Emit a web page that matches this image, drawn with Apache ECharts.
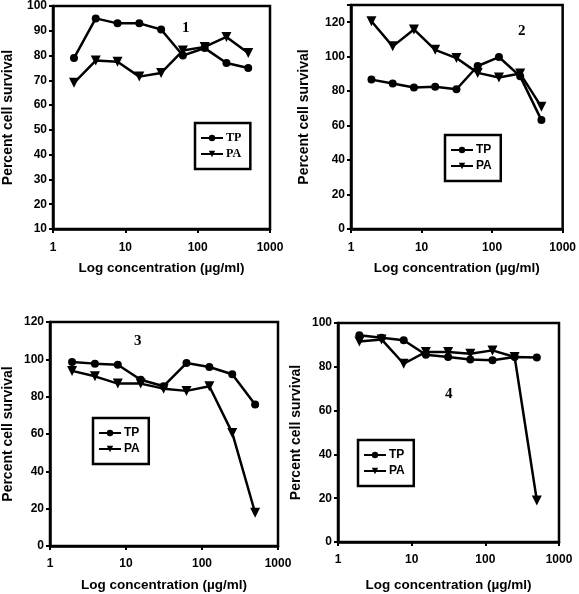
<!DOCTYPE html>
<html><head><meta charset="utf-8">
<script src="https://cdn.jsdelivr.net/npm/echarts@6/dist/echarts.min.js"></script>
<style>html,body{margin:0;padding:0;background:#fff}#c{width:579px;height:594px}</style>
</head><body><div id="c"></div>
<script>
const conc = [1.95, 3.9, 7.8, 15.6, 31.25, 62.5, 125, 250, 500];
const tp1 = [79, 95, 93, 93, 90.5, 80, 83, 77, 75];
const pa1 = [69, 78, 77.5, 71.5, 73, 82, 83.5, 87.5, 81];
const tp2 = [86.7, 84.4, 82.1, 82.5, 81.1, 94.6, 99.8, 88.6, 63.2];
const pa2 = [120.6, 106, 115.8, 104, 99.2, 90.6, 87.9, 90.2, 70.9];
const tp3 = [98.6, 97.7, 97.1, 89.1, 85.6, 98, 95.9, 92, 75.8];
const pa3 = [93.8, 90.9, 87, 87, 84.3, 83.1, 85.6, 60.6, 17.8];
const tp4 = [94.4, 93.3, 92.1, 85.5, 84.5, 83.3, 83, 84.5, 84.2];
const pa4 = [91.5, 92.5, 81.4, 86.8, 86.8, 86, 87.5, 84.5, 19];
const panelLabels = ['1', '2', '3', '4'];
const yRanges = [[10, 100, 10], [0, 130, 20], [0, 120, 20], [0, 100, 20]];
const xTitle = 'Log concentration (\u00b5g/ml)';
const yTitle = 'Percent cell survival';

const grids = [
  {left: 49, top: 5, width: 221, height: 224},
  {left: 351, top: 5, width: 216, height: 224},
  {left: 46, top: 322, width: 232, height: 224},
  {left: 338, top: 323, width: 221, height: 219}
];
const xNameGap = [32, 32, 32, 36];
const xLabelMargin = [13, 13, 12, 12];
const yNameGap = [38, 40, 35, 35];
const SANS = '"Liberation Sans", Arial, sans-serif';
const SERIF = '"Liberation Serif", "Times New Roman", serif';
const legendPos = [
  {left: 195, top: 123, font: SERIF},
  {left: 445, top: 135, font: SANS},
  {left: 93, top: 418, font: SANS},
  {left: 358, top: 440, font: SANS}
];
const labelPos = [[182, 21], [518, 24], [134, 334], [445, 387]];
const tps = [tp1, tp2, tp3, tp4];
const pas = [pa1, pa2, pa3, pa4];

const option = {
  animation: false,
  backgroundColor: '#fff',
  grid: grids.map(g => Object.assign({show: true, borderColor: '#000', borderWidth: 2.5, backgroundColor: 'transparent'}, g)),
  xAxis: grids.map((g, i) => ({
    type: 'log', logBase: 10, min: 1, max: 1000, gridIndex: i,
    name: xTitle, nameLocation: 'middle', nameGap: xNameGap[i],
    nameTextStyle: {fontFamily: SANS, fontWeight: 'bold', fontSize: 13.5, color: '#000'},
    axisLine: {lineStyle: {color: '#000', width: 2.5}},
    axisTick: {show: true, inside: false, length: 4, lineStyle: {color: '#000', width: 2}},
    minorTick: {show: false},
    splitLine: {show: false},
    axisLabel: {fontFamily: SANS, fontWeight: 'bold', fontSize: 12, color: '#000', margin: xLabelMargin[i],
      formatter: v => String(Math.round(v))}
  })),
  yAxis: grids.map((g, i) => ({
    type: 'value', gridIndex: i, min: yRanges[i][0], max: yRanges[i][1], interval: yRanges[i][2],
    name: yTitle, nameLocation: 'middle', nameGap: yNameGap[i],
    nameTextStyle: {fontFamily: SANS, fontWeight: 'bold', fontSize: 14, color: '#000'},
    axisLine: {show: true, lineStyle: {color: '#000', width: 2.5}},
    axisTick: {show: true, inside: false, length: 4, lineStyle: {color: '#000', width: 2}},
    splitLine: {show: false},
    axisLabel: {fontFamily: SANS, fontWeight: 'bold', fontSize: 12, color: '#000', margin: 6,
      formatter: v => ((v - yRanges[i][0]) % yRanges[i][2] === 0 ? String(v) : '')}
  })),
  title: panelLabels.map((t, i) => ({
    text: t, left: labelPos[i][0], top: labelPos[i][1], padding: 0,
    textStyle: {fontFamily: SERIF, fontWeight: 'bold', fontSize: 15, color: '#000'}
  })),
  legend: legendPos.map((p, i) => ({
    data: ['TP', 'PA'], orient: 'vertical', left: p.left, top: p.top,
    borderColor: '#000', borderWidth: 2.5, padding: [9, 9, 9, 5], itemGap: 4,
    itemWidth: 22, itemHeight: 8, selectedMode: false,
    textStyle: {fontFamily: p.font, fontWeight: 'bold', fontSize: 12, color: '#000', padding: [0, 0, 0, -2]}
  })),
  series: []
};
for (let i = 0; i < 4; i++) {
  option.series.push({
    name: 'TP', type: 'line', xAxisIndex: i, yAxisIndex: i,
    data: conc.map((c, k) => [c, tps[i][k]]),
    symbol: 'circle', symbolSize: 8,
    lineStyle: {color: '#000', width: 2.5}, itemStyle: {color: '#000'}
  });
  option.series.push({
    name: 'PA', type: 'line', xAxisIndex: i, yAxisIndex: i,
    data: conc.map((c, k) => [c, pas[i][k]]),
    symbol: 'triangle', symbolRotate: 180, symbolSize: 10,
    lineStyle: {color: '#000', width: 2.5}, itemStyle: {color: '#000'}
  });
}
const chart = echarts.init(document.getElementById('c'), null, {renderer: 'canvas'});
chart.setOption(option);
</script></body></html>
